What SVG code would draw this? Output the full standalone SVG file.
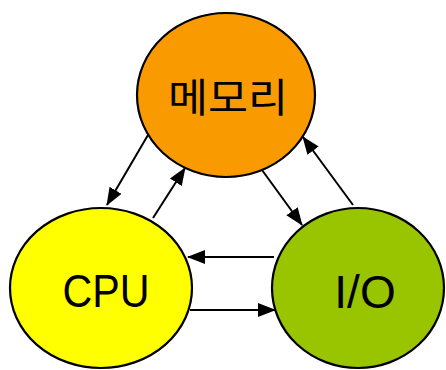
<svg xmlns="http://www.w3.org/2000/svg" width="446" height="370" viewBox="0 0 446 370">
<style>
.node{stroke:#000;stroke-width:2.2}
.lbl{fill:#000;text-anchor:middle}
.conn line{stroke:#000;stroke-width:2;marker-end:url(#ah)}
</style>
<defs>
<marker id="ah" viewBox="0 0 18 14" refX="17" refY="7" markerWidth="18" markerHeight="14" markerUnits="userSpaceOnUse" orient="auto">
<path d="M0,0 L18,7 L0,14 Z" fill="#000"/>
</marker>
</defs>
<rect width="446" height="370" fill="#fff"/>
<g id="memory">
<ellipse class="node" cx="226" cy="95" rx="89" ry="82" fill="#F99A00"/>
<text class="lbl" x="228" y="112" font-family="Noto Sans CJK KR, sans-serif" font-size="40" textLength="120" lengthAdjust="spacingAndGlyphs">메모리</text>
</g>
<g id="cpu">
<ellipse class="node" cx="101" cy="288" rx="91" ry="80" fill="#FFFF00"/>
<text class="lbl" x="106" y="307" font-family="Liberation Sans, sans-serif" font-size="46" textLength="87" lengthAdjust="spacingAndGlyphs">CPU</text>
</g>
<g id="io">
<ellipse class="node" cx="358" cy="288" rx="86" ry="80" fill="#99C400"/>
<text class="lbl" x="365" y="308" font-family="Liberation Sans, sans-serif" font-size="46">I/O</text>
</g>
<g id="connectors" class="conn">
<line x1="148" y1="135" x2="107" y2="205"/>
<line x1="153" y1="218" x2="185" y2="168"/>
<line x1="262" y1="170" x2="302" y2="225"/>
<line x1="353" y1="205" x2="303" y2="137"/>
<line x1="274" y1="257" x2="188" y2="257"/>
<line x1="190" y1="310" x2="275" y2="310"/>
</g>
</svg>
